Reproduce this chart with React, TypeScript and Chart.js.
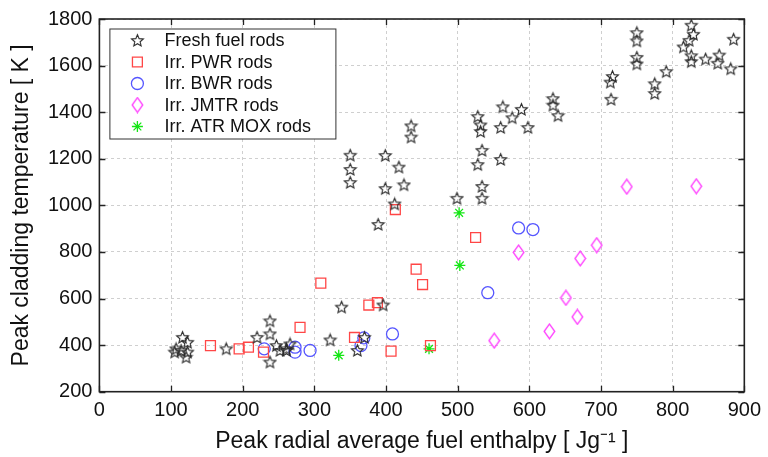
import React, { useEffect, useRef } from 'react';
import { Chart, registerables } from 'chart.js';

Chart.register(...registerables);

// ---- tick values ----
const xTickValues = [0, 100, 200, 300, 400, 500, 600, 700, 800, 900];
const yTickValues = [200, 400, 600, 800, 1000, 1200, 1400, 1600, 1800];

// ---- series (x = peak radial average fuel enthalpy, y = peak cladding temperature) ----
const freshX = [116, 123, 107, 114, 123, 121, 105, 177, 220, 238, 238, 238, 247, 252, 261, 261, 266, 322, 338, 360, 370, 396,
  350, 350, 350, 399, 418, 425, 399, 435, 435, 412, 389, 499, 528, 532, 532, 563, 576, 589, 560, 598, 633, 633, 640,
  716, 713, 714, 534, 528, 560, 534, 534, 750, 750, 750, 750, 775, 775, 791, 826, 829, 823, 815, 826, 826, 846, 865, 863, 881, 885];
const freshY = [433, 412, 384, 377, 370, 348, 370, 384, 433, 504, 448, 327, 398, 377, 384, 377, 405, 422, 563, 377, 433, 572,
  1215, 1154, 1098, 1214, 1164, 1088, 1072, 1341, 1293, 1006, 918, 1030, 1381, 1345, 1317, 1423, 1376, 1412, 1334, 1334, 1458, 1430, 1385,
  1553, 1529, 1455, 1236, 1175, 1197, 1081, 1030, 1741, 1706, 1635, 1607, 1522, 1480, 1574, 1773, 1734, 1708, 1680, 1642, 1617, 1628, 1645, 1610, 1586, 1713];

const pwrX = [155, 195, 208, 229, 280, 309, 356, 376, 388, 407, 442, 451, 462, 413, 525];
const pwrY = [398, 384, 391, 370, 476, 666, 433, 572, 582, 374, 726, 660, 398, 982, 862];

const bwrX = [230, 273, 273, 294, 365, 369, 409, 542, 585, 605];
const bwrY = [384, 391, 370, 377, 398, 431, 448, 625, 903, 896];

const jmtrX = [551, 585, 628, 651, 667, 671, 694, 736, 833];
const jmtrY = [419, 798, 459, 603, 521, 772, 829, 1080, 1082];

const moxX = [334, 460, 502, 503];
const moxY = [356, 384, 968, 742];

const seriesLabels = ['Fresh fuel rods', 'Irr. PWR rods', 'Irr. BWR rods', 'Irr. JMTR rods', 'Irr. ATR MOX rods'];

const FONT = "'Liberation Sans', Arial, Helvetica, sans-serif";
const STAR_COLOR = '#2a2a2a';
const PWR_COLOR = 'rgb(255,70,70)';
const BWR_COLOR = 'rgb(85,85,255)';
const JMTR_COLOR = 'rgb(255,60,255)';
const MOX_COLOR = 'rgb(20,230,20)';

function makeStar(color: string) {
  const c = document.createElement('canvas');
  c.width = 15; c.height = 15;
  const ctx = c.getContext('2d')!;
  const R = 6.2, r = 2.8, cx = 7.5, cy = 7.9;
  ctx.beginPath();
  for (let i = 0; i < 10; i++) {
    const a = -Math.PI / 2 + (i * Math.PI) / 5;
    const rad = i % 2 === 0 ? R : r;
    const px = cx + rad * Math.cos(a), py = cy + rad * Math.sin(a);
    if (i === 0) ctx.moveTo(px, py); else ctx.lineTo(px, py);
  }
  ctx.closePath();
  ctx.strokeStyle = color; ctx.lineWidth = 1.1; ctx.stroke();
  return c;
}

function makeDiamond(color: string) {
  const c = document.createElement('canvas');
  c.width = 13; c.height = 17;
  const ctx = c.getContext('2d')!;
  ctx.beginPath();
  ctx.moveTo(6.5, 1.2); ctx.lineTo(11.8, 8.5); ctx.lineTo(6.5, 15.8); ctx.lineTo(1.2, 8.5);
  ctx.closePath();
  ctx.strokeStyle = color; ctx.lineWidth = 1.3; ctx.stroke();
  return c;
}

function toPts(xs: number[], ys: number[]) {
  return xs.map((x, i) => ({ x, y: ys[i] }));
}

function drawMarker(ctx: CanvasRenderingContext2D, ds: any, x: number, y: number) {
  const ps = ds.pointStyle;
  ctx.save();
  if (typeof ps === 'object') {
    ctx.drawImage(ps, x - ps.width / 2, y - ps.height / 2);
  } else {
    ctx.strokeStyle = ds.borderColor; ctx.lineWidth = ds.borderWidth;
    const r = ds.pointRadius;
    ctx.beginPath();
    if (ps === 'rect') {
      const s = Math.SQRT1_2 * r;
      ctx.rect(x - s, y - s, 2 * s, 2 * s);
    } else if (ps === 'circle') {
      ctx.arc(x, y, r, 0, Math.PI * 2);
    } else if (ps === 'star') {
      for (let k = 0; k < 4; k++) {
        const a = (k * Math.PI) / 4;
        ctx.moveTo(x - r * Math.cos(a), y - r * Math.sin(a));
        ctx.lineTo(x + r * Math.cos(a), y + r * Math.sin(a));
      }
    }
    ctx.stroke();
  }
  ctx.restore();
}

const framePlugin = {
  id: 'frame',
  afterDraw(chart: any) {
    const { ctx, chartArea: a, scales } = chart;
    ctx.save();
    ctx.strokeStyle = '#222';
    ctx.lineWidth = 1.3;
    const tl = 6;
    ctx.beginPath();
    xTickValues.forEach((v) => {
      const px = Math.round(scales.x.getPixelForValue(v)) + 0.5;
      ctx.moveTo(px, a.bottom); ctx.lineTo(px, a.bottom - tl);
      ctx.moveTo(px, a.top); ctx.lineTo(px, a.top + tl);
    });
    yTickValues.forEach((v) => {
      const py = Math.round(scales.y.getPixelForValue(v)) + 0.5;
      ctx.moveTo(a.left, py); ctx.lineTo(a.left + tl, py);
      ctx.moveTo(a.right, py); ctx.lineTo(a.right - tl, py);
    });
    ctx.stroke();
    ctx.lineWidth = 1.6;
    ctx.strokeRect(a.left, a.top, a.right - a.left, a.bottom - a.top);

    // legend box
    const bx = a.left + 10, by = a.top + 9.5, bw = 226, bh = 110;
    ctx.fillStyle = '#fff';
    ctx.fillRect(bx, by, bw, bh);
    ctx.lineWidth = 1;
    ctx.strokeStyle = '#333';
    ctx.strokeRect(bx + 0.5, by + 0.5, bw, bh);
    ctx.font = `18px ${FONT}`;
    ctx.fillStyle = '#111';
    ctx.textBaseline = 'middle';
    ctx.textAlign = 'left';
    chart.data.datasets.forEach((ds: any, i: number) => {
      const y = by + 12 + i * 21.5;
      drawMarker(ctx, ds, bx + 28, y);
      ctx.fillText(ds.label, bx + 55, y + 1);
    });
    ctx.restore();
  },
};

export default function App() {
  const ref = useRef<HTMLCanvasElement>(null);
  useEffect(() => {
    if (!ref.current) return;
    const star = makeStar(STAR_COLOR);
    const diamond = makeDiamond(JMTR_COLOR);
    const chart = new Chart(ref.current, {
      type: 'scatter',
      data: {
        datasets: [
          { label: seriesLabels[0], data: toPts(freshX, freshY), pointStyle: star as any, borderColor: STAR_COLOR, backgroundColor: 'transparent', pointRadius: 7, borderWidth: 1.1 },
          { label: seriesLabels[1], data: toPts(pwrX, pwrY), pointStyle: 'rect', borderColor: PWR_COLOR, backgroundColor: 'transparent', pointRadius: 7, borderWidth: 1.3 },
          { label: seriesLabels[2], data: toPts(bwrX, bwrY), pointStyle: 'circle', borderColor: BWR_COLOR, backgroundColor: 'transparent', pointRadius: 6, borderWidth: 1.3 },
          { label: seriesLabels[3], data: toPts(jmtrX, jmtrY), pointStyle: diamond as any, borderColor: JMTR_COLOR, backgroundColor: 'transparent', pointRadius: 7, borderWidth: 1.3 },
          { label: seriesLabels[4], data: toPts(moxX, moxY), pointStyle: 'star', borderColor: MOX_COLOR, backgroundColor: 'transparent', pointRadius: 5.5, borderWidth: 1.3 },
        ] as any,
      },
      options: {
        responsive: false,
        animation: false,
        events: [],
        layout: { padding: { left: 0, top: 14.7, right: 18, bottom: 0 } },
        plugins: { legend: { display: false }, tooltip: { enabled: false } },
        scales: {
          x: {
            type: 'linear', min: 0, max: 900,
            afterBuildTicks: (s: any) => { s.ticks = xTickValues.map((v) => ({ value: v })); },
            afterFit: (s: any) => { s.height = 65.3; },
            grid: { color: '#cfcfcf', lineWidth: 1, drawTicks: false },
            border: { display: false, dash: [3, 3] },
            ticks: { color: '#111', font: { family: FONT, size: 20 }, padding: 7, maxRotation: 0, autoSkip: false, callback: (v: any) => String(v) },
            title: { display: true, text: 'Peak radial average fuel enthalpy [ Jg⁻¹ ]', color: '#111', font: { family: FONT, size: 23 }, padding: { top: 0, bottom: 2 } },
          },
          y: {
            type: 'linear', min: 200, max: 1800,
            afterBuildTicks: (s: any) => { s.ticks = yTickValues.map((v) => ({ value: v })); },
            afterFit: (s: any) => { s.width = 99.4; },
            grid: { color: '#cfcfcf', lineWidth: 1, drawTicks: false },
            border: { display: false, dash: [3, 3] },
            ticks: { color: '#111', font: { family: FONT, size: 20 }, padding: 7, autoSkip: false, callback: (v: any) => String(v) },
            title: { display: true, text: 'Peak cladding temperature [ K ]', color: '#111', font: { family: FONT, size: 23 }, padding: { top: 8, bottom: 0 } },
          },
        },
      } as any,
      plugins: [framePlugin],
    });
    return () => chart.destroy();
  }, []);
  return (
    <div style={{ position: 'fixed', left: 0, top: 0, width: 768, height: 457, background: '#fff' }}>
      <canvas ref={ref} width={768} height={457} />
    </div>
  );
}
